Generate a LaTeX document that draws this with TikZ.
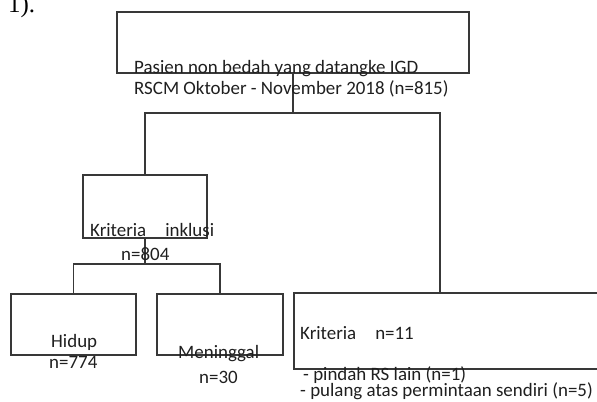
\documentclass[tikz,border=0pt]{standalone}
\usepackage{fontspec}
\setmainfont{Carlito}
\newfontfamily\nomorfont{Liberation Serif}

\begin{document}
\begin{tikzpicture}[x=1bp, y=-1bp,
  kotak/.style={draw=black!78, line width=1.5bp, inner sep=0pt},
  garis/.style={draw=black!78, line width=1.5bp},
  teks/.style={anchor=base west, inner sep=0pt, text=black!88, font=\fontsize{19}{21}\selectfont}]
\useasboundingbox (0,0) rectangle (597,401);

\node[anchor=base west, inner sep=0pt, font=\nomorfont\fontsize{25}{25}\selectfont] (nomor) at (8,12) {1).};

\node[kotak, minimum width=352bp, minimum height=61bp] (pasien) at (293,42.5) {};
\node[kotak, minimum width=124bp, minimum height=63bp] (inklusi) at (145,206.5) {};
\node[kotak, minimum width=125bp, minimum height=61bp] (hidup) at (73.5,324.5) {};
\node[kotak, minimum width=126bp, minimum height=61bp] (meninggal) at (220,324.5) {};
\node[kotak, minimum width=326bp, minimum height=76bp] (eksklusi) at (457,331) {};

\coordinate (cabang) at (440,113);
\draw[garis] (pasien.south) |- (cabang) -- (cabang |- eksklusi.north);
\draw[garis] (pasien.south |- cabang) -| (inklusi.north);
\draw[garis] (inklusi.south) -- ++(0,25) coordinate (cabang2);
\draw[garis] (hidup.north) |- (cabang2) -| (meninggal.north);

\node[teks] (pasien1) at (134,73) {Pasien non bedah yang datangke IGD};
\node[teks] (pasien2) at (134,94) {RSCM Oktober - November 2018 (n=815)};
\node[teks] (inklusi1) at (90,236) {Kriteria\hspace{19bp}inklusi};
\node[teks] (inklusi2) at (121,260) {n=804};
\node[teks] (hidup1) at (51,347) {Hidup};
\node[teks] (hidup2) at (49,368) {n=774};
\node[teks] (meninggal1) at (178,358) {Meninggal};
\node[teks] (meninggal2) at (199,383) {n=30};
\node[teks] (eksklusi1) at (300,339) {Kriteria\hspace{19bp}n=11};
\node[teks] (eksklusi2) at (303,380) {- pindah RS lain (n=1)};
\node[teks] (eksklusi3) at (300,396) {- pulang atas permintaan sendiri (n=5)};
\end{tikzpicture}
\end{document}
